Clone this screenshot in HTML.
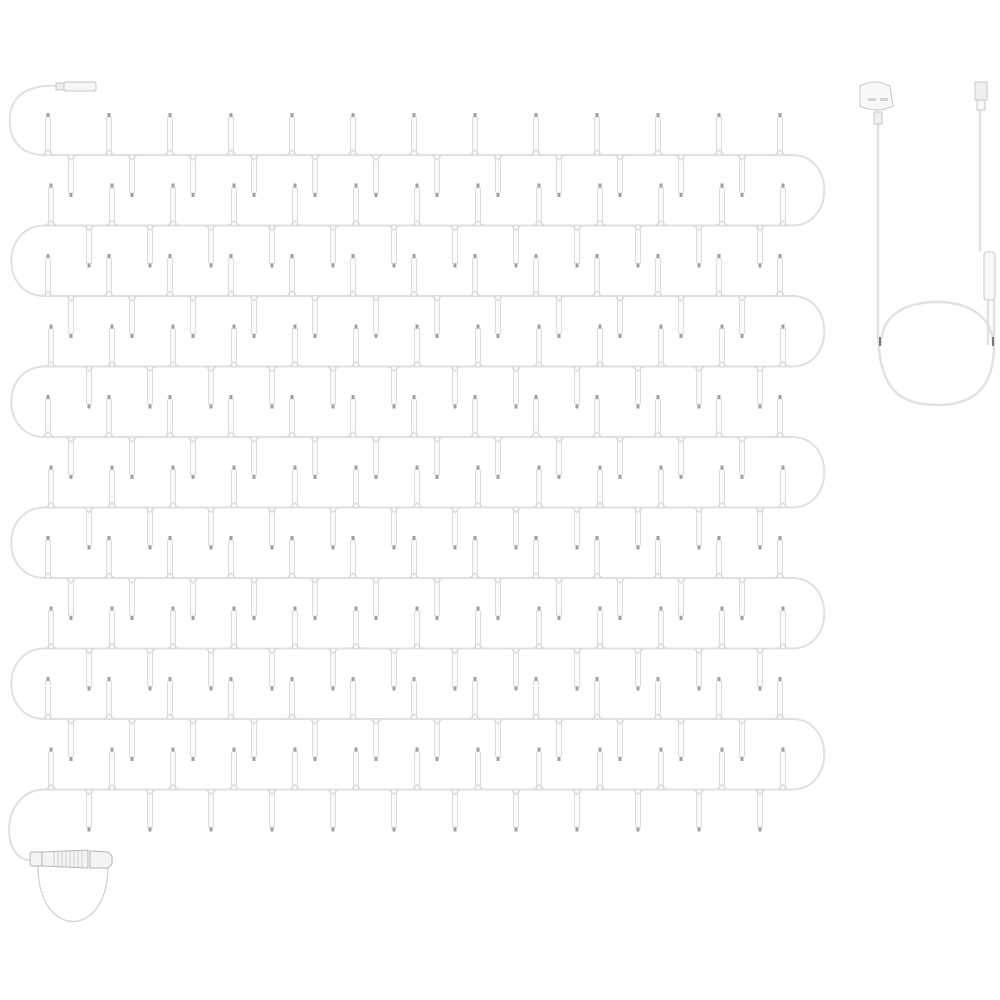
<!DOCTYPE html>
<html><head><meta charset="utf-8"><style>html,body{margin:0;padding:0;background:#fff}svg{display:block}</style></head>
<body>
<svg id="s" width="1000" height="1000" viewBox="0 0 1000 1000" xmlns="http://www.w3.org/2000/svg">
<g id="w" fill="none" stroke="#e0e0e0" stroke-width="2" stroke-linecap="round"></g>
<g id="d"></g>
<g stroke="#c4c4c4" stroke-width="1" fill="#f6f6f6">
<rect x="64" y="82" width="32" height="9" rx="2"/>
<rect x="56" y="83" width="8" height="7" fill="#eee"/>
</g>
<path d="M38,866 C38,940 108,940 108,866" fill="none" stroke="#d0d0d0" stroke-width="1.2"/>
<g stroke="#b4b4b4" stroke-width="1" fill="#f4f4f4">
<rect x="30" y="852" width="12" height="14" rx="2"/>
<path d="M42,852 L88,850 L88,868 L42,866 Z"/>
<path d="M90,851 L108,852 L112,856 L112,864 L108,868 L90,868 Z"/>
</g>
<g stroke="#c4c4c4" stroke-width="0.8">
<line x1="54" y1="851" x2="54" y2="867"/><line x1="58" y1="851" x2="58" y2="867"/><line x1="62" y1="851" x2="62" y2="867"/><line x1="66" y1="851" x2="66" y2="867"/><line x1="70" y1="850" x2="70" y2="868"/><line x1="74" y1="850" x2="74" y2="868"/><line x1="78" y1="850" x2="78" y2="868"/><line x1="82" y1="850" x2="82" y2="868"/>
</g>
<g fill="none" stroke="#e2e2e2" stroke-width="2.5">
<path d="M878,118 L878,330 C878,390 900,405 938,405 C976,405 994,385 994,345 L994,300"/>
<path d="M881,345 C881,315 905,302 938,302 C970,302 993,318 993,345"/>
<path d="M980,110 L980,252 M988,300 L988,345"/>
</g>
<path d="M880,337 l0,9 M993,337 l0,9" stroke="#555" stroke-width="1.5"/>
<g stroke="#c8c8c8" stroke-width="1" fill="#f8f8f8">
<path d="M860,86 Q875,78 890,86 L893,106 Q876,114 860,106 Z"/>
<rect x="874" y="112" width="8" height="12" fill="#f0f0f0"/>
<rect x="975" y="82" width="12" height="18" fill="#f0f0f0"/>
<rect x="977" y="100" width="8" height="10"/>
<rect x="984" y="252" width="11" height="48" rx="3"/>
</g>
<rect x="868" y="98" width="8" height="3" fill="#d4d4d4"/><rect x="880" y="98" width="8" height="3" fill="#d4d4d4"/>
</svg>
<script>
var N="http://www.w3.org/2000/svg";
function Y(k){return 155+70.5*k;}
var p="M58,86 C30,84 12,95 10,115 C8,140 20,155 45,155";
for(var k=0;k<10;k++){
 var y=Y(k);
 if(k%2==0){p+=" L792,"+y; if(k<9){var y2=Y(k+1);p+=" C835,"+y+" 835,"+y2+" 792,"+y2;}}
 else{p+=" L45,"+y; if(k<9){var y2=Y(k+1);p+=" C0,"+y+" 0,"+y2+" 45,"+y2;}}
}
p+=" C0,"+Y(9)+" 0,860 30,860";
var pa=document.createElementNS(N,"path");pa.setAttribute("d",p);document.getElementById("w").appendChild(pa);
var g=document.getElementById("d");
function drop(x,y,dir){
 var t=y+dir*42;
 var r=document.createElementNS(N,"rect");
 var top=Math.min(y,t)+(dir<0?4:0), h=Math.abs(t-y)-4;
 r.setAttribute("x",x-2.5);r.setAttribute("y",top);r.setAttribute("width",5);r.setAttribute("height",h);
 r.setAttribute("fill","#fbfbfb");r.setAttribute("stroke","#dcdcdc");r.setAttribute("stroke-width","1");r.setAttribute("rx","1.5");
 g.appendChild(r);
 var c=document.createElementNS(N,"rect");
 c.setAttribute("x",x-1.5);c.setAttribute("y",dir<0?t:t-4);c.setAttribute("width",3);c.setAttribute("height",4);c.setAttribute("fill","#95a3ad");
 g.appendChild(c);
 var v=document.createElementNS(N,"path");
 v.setAttribute("d","M"+(x-5)+","+y+" L"+x+","+(y+dir*5)+" L"+(x+5)+","+y);
 v.setAttribute("fill","none");v.setAttribute("stroke","#dcdcdc");v.setAttribute("stroke-width","1.3");
 g.appendChild(v);
}
for(var k=0;k<10;k++){
 var y=Y(k);
 var ux=(k%2==0)?48:51, dx=(k%2==0)?71:89;
 for(var i=0;i<13;i++){var x=ux+61*i; if(x<=790) drop(x,y,-1);}
 for(var i=0;i<12;i++){var x=dx+61*i; if(x<=770) drop(x,y,1);}
}
</script>
</body></html>
